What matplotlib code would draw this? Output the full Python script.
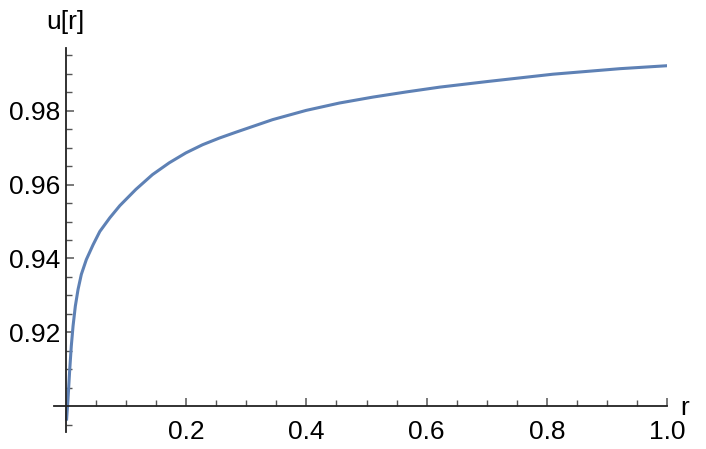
import matplotlib
matplotlib.use("Agg")
import matplotlib.pyplot as plt
from matplotlib.ticker import FixedLocator

# values
r_vals = [0.001, 0.0033, 0.0062, 0.0088, 0.0117, 0.0155, 0.020, 0.0255, 0.0338, 0.045,
          0.0562, 0.0728, 0.0895, 0.1162, 0.1438, 0.1717, 0.1995, 0.2272, 0.255, 0.2828,
          0.3438, 0.3995, 0.455, 0.5105, 0.5662, 0.6217, 0.700, 0.810, 0.9217, 1.000]
u_vals = [0.8965, 0.9019, 0.9100, 0.9163, 0.9217, 0.9271, 0.9316, 0.9357, 0.9397, 0.9437,
          0.9473, 0.9510, 0.9543, 0.9587, 0.9627, 0.9659, 0.9686, 0.9708, 0.9726, 0.9742,
          0.9776, 0.9801, 0.9821, 0.9837, 0.9851, 0.9864, 0.9879, 0.9899, 0.9914, 0.9922]

x_ticks = [0.2, 0.4, 0.6, 0.8, 1.0]
x_labels = ["0.2", "0.4", "0.6", "0.8", "1.0"]
y_ticks = [0.92, 0.94, 0.96, 0.98]
y_labels = ["0.92", "0.94", "0.96", "0.98"]

plt.rcParams["font.family"] = ["Liberation Sans", "DejaVu Sans"]

fig = plt.figure(figsize=(7.06, 4.49), dpi=100)
ax = fig.add_axes([54 / 706, 1 - 432 / 449, (667 - 54) / 706, (432 - 48) / 449])

ax.plot(r_vals, u_vals, color="#5E81B5", lw=2.2, solid_joinstyle="round")

ax.set_xlim(-0.02, 1.0)
ax.set_ylim(0.893, 0.997)

for side in ["top", "right"]:
    ax.spines[side].set_visible(False)
ax.spines["left"].set_position(("data", 0))
ax.spines["bottom"].set_position(("data", 0.9))
for side in ["left", "bottom"]:
    ax.spines[side].set_color("#222222")
    ax.spines[side].set_linewidth(1.3)

ax.xaxis.set_major_locator(FixedLocator(x_ticks))
ax.xaxis.set_minor_locator(FixedLocator([i * 0.05 for i in range(1, 21) if i % 4 != 0]))
ax.set_xticklabels(x_labels)
ax.yaxis.set_major_locator(FixedLocator(y_ticks))
ax.yaxis.set_minor_locator(FixedLocator([0.895] + [0.9 + i * 0.005 for i in range(1, 20) if i % 4 != 0]))
ax.set_yticklabels(y_labels)

ax.tick_params(which="major", direction="in", length=6, width=1.1, color="#555555",
               labelsize=19, pad=4)
ax.tick_params(which="minor", direction="in", length=4, width=1.0, color="#555555")
ax.tick_params(axis="x", which="major", pad=10)

fig.text(65 / 706, 1 - 22 / 449, "u[r]", fontsize=19, ha="center", va="center")
fig.text(685 / 706, 1 - 408 / 449, "r", fontsize=19, ha="center", va="center")

fig.savefig("out.png", dpi=100)
